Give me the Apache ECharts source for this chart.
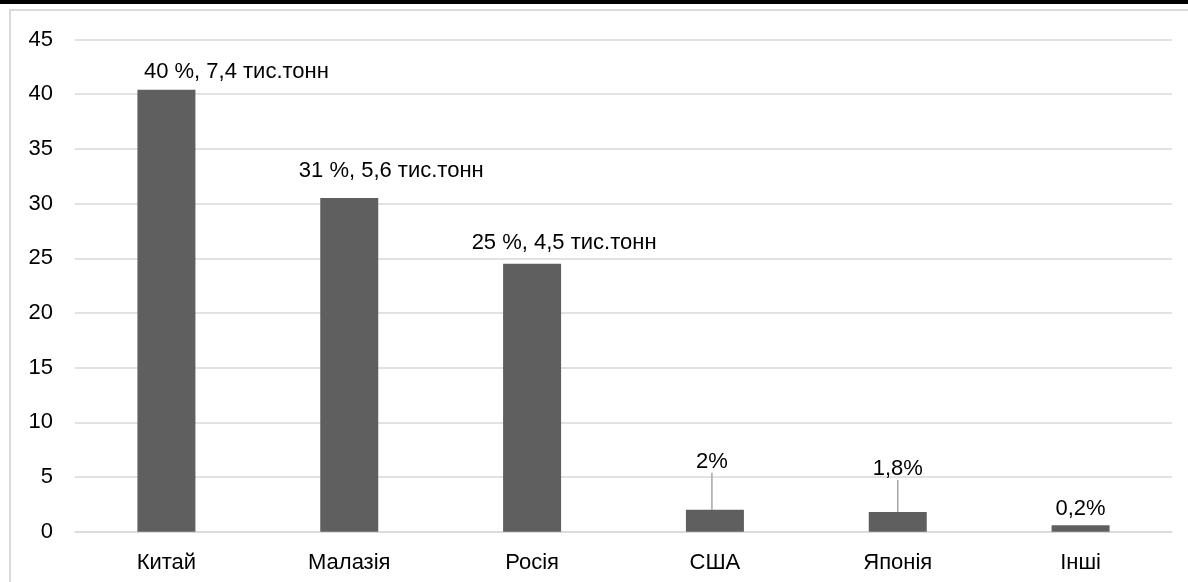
<!DOCTYPE html>
<html>
<head>
<meta charset="utf-8">
<script src="https://cdn.jsdelivr.net/npm/echarts@6/dist/echarts.min.js"></script>
<style>
html,body{margin:0;padding:0;background:#fff;}
#wrap{position:relative;width:1188px;height:582px;overflow:hidden;background:#fff;}
#topbar{position:absolute;left:0;top:0;width:1188px;height:4px;background:#000;}
#frame{position:absolute;left:9px;top:9px;width:1200px;height:600px;border-top:2px solid #d9d9d9;border-left:2px solid #d9d9d9;}
#chart{position:absolute;left:0;top:0;width:1188px;height:582px;}
</style>
</head>
<body>
<div id="wrap">
<div id="topbar"></div>
<div id="frame"></div>
<div id="chart"></div>
</div>
<script>
const categories = ['Китай', 'Малазія', 'Росія', 'США', 'Японія', 'Інші'];
const values = [40.4, 30.5, 24.5, 2.0, 1.8, 0.6];
const labels = ['40 %, 7,4 тис.тонн', '31 %, 5,6 тис.тонн', '25 %, 4,5 тис.тонн', '2%', '1,8%', '0,2%'];
const yTicks = [0, 5, 10, 15, 20, 25, 30, 35, 40, 45];

// label shifts (style only): [dx, dy] relative to default top position
const labelShift = [[70, -2], [42, -11], [32, -5], [-3, -32], [0, -27], [0, 0]];
const leader = [false, false, false, true, true, false];

const chart = echarts.init(document.getElementById('chart'), null, {renderer: 'canvas'});
const font = '"Liberation Sans", Arial, sans-serif';
chart.setOption({
  animation: false,
  backgroundColor: 'transparent',
  grid: {left: 75, right: 16, top: 39.5, bottom: 50.3, containLabel: false},
  xAxis: {
    type: 'category',
    data: categories,
    axisLine: {show: true, lineStyle: {color: '#d9d9d9', width: 1.5}},
    axisTick: {show: false},
    axisLabel: {color: '#000', fontFamily: font, fontSize: 22, margin: 20}
  },
  yAxis: {
    type: 'value',
    min: yTicks[0],
    max: yTicks[yTicks.length - 1],
    interval: 5,
    axisLine: {show: false},
    axisTick: {show: false},
    splitLine: {lineStyle: {color: '#d9d9d9', width: 1.5}},
    axisLabel: {color: '#000', fontFamily: font, fontSize: 22, margin: 22}
  },
  series: [{
    type: 'bar',
    barWidth: 58,
    itemStyle: {color: '#5f5f5f'},
    data: values.map((v, i) => ({
      value: v,
      label: {formatter: labels[i]},
      labelLine: {show: leader[i], lineStyle: {color: '#a6a6a6', width: 1.5}}
    })),
    label: {
      show: true,
      position: 'top',
      distance: 5,
      color: '#000',
      fontFamily: font,
      fontSize: 22
    },
    labelLayout: function (p) {
      const s = labelShift[p.dataIndex];
      return {dx: s[0], dy: s[1]};
    }
  }]
});
</script>
</body>
</html>
